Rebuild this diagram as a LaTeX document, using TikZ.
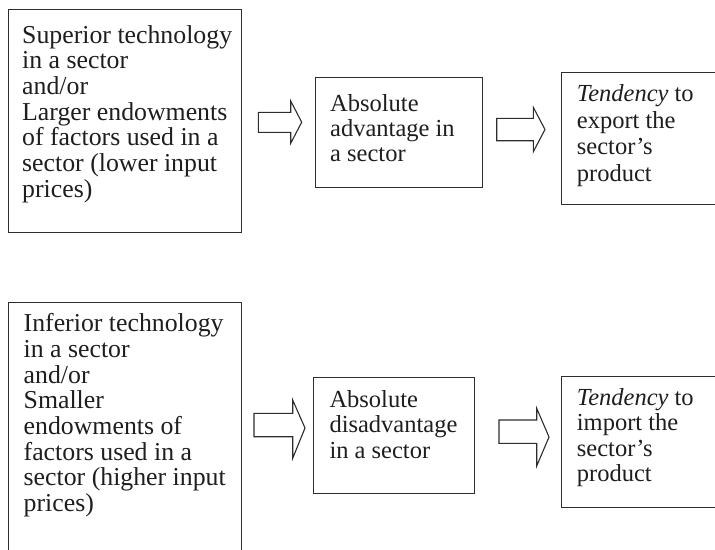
\documentclass[tikz,border=0pt]{standalone}
\usepackage{fontspec}
\setmainfont{Liberation Serif}
\definecolor{ink}{RGB}{30,30,30}
\definecolor{edge}{RGB}{45,45,45}
\tikzset{
  boxline/.style={draw=edge, line width=1.1pt, inner sep=0pt, anchor=north west},
  txt/.style={inner sep=0pt, anchor=base west, text=ink},
  bigtxt/.style={txt, font=\fontsize{25.8}{25.7}\selectfont},
  smalltxt/.style={txt, font=\fontsize{24.5}{#1}\selectfont},
  blockarrow/.style={draw=edge, line width=1.1pt, fill=white, line join=miter}
}
\begin{document}
\begin{tikzpicture}[x=1pt,y=-1pt]
\useasboundingbox (0,0) rectangle (715,549);
\clip (0,0) rectangle (715,549);
% boxes
\node[boxline, minimum width=233.5pt, minimum height=223pt] (b1) at (7.5,9) {};
\node[boxline, minimum width=167.3pt, minimum height=109.7pt] (b2) at (315,77.3) {};
\node[boxline, minimum width=170pt, minimum height=132.3pt] (b3) at (560.7,71.7) {};
\node[boxline, minimum width=232.7pt, minimum height=260pt] (b4) at (8,302) {};
\node[boxline, minimum width=161.8pt, minimum height=116pt] (b5) at (312.5,377.3) {};
\node[boxline, minimum width=170pt, minimum height=131.2pt] (b6) at (561,375.5) {};
% texts
\node[bigtxt] (t1) at (22,43) {\parbox[t]{230pt}{Superior technology\\in a sector\\and/or\\Larger endowments\\of factors used in a\\sector (lower input\\prices)}};
\node[smalltxt=25] (t2) at (330,111.7) {\parbox[t]{160pt}{Absolute\\advantage in\\a sector}};
\node[smalltxt=26.5] (t3) at (576.7,101.7) {\parbox[t]{160pt}{\textit{Tendency} to\\export the\\sector’s\\product}};
\node[bigtxt] (t4) at (23.5,331.7) {\parbox[t]{230pt}{Inferior technology\\in a sector\\and/or\\Smaller\\endowments of\\factors used in a\\sector (higher input\\prices)}};
\node[smalltxt=25.2] (t5) at (329.3,407.7) {\parbox[t]{160pt}{Absolute\\disadvantage\\in a sector}};
\node[smalltxt=25.5] (t6) at (576.7,405) {\parbox[t]{160pt}{\textit{Tendency} to\\import the\\sector’s\\product}};
% block arrows
\draw[blockarrow] (258.3,112.3) -- (290.7,112.3) -- (290.7,101) -- (301.7,122.2) -- (290.7,143.3) -- (290.7,132.3) -- (258.3,132.3) -- cycle;
\draw[blockarrow] (496.7,118.3) -- (533.3,118.3) -- (533.3,107.3) -- (545,129.5) -- (533.3,151.7) -- (533.3,140.7) -- (496.7,140.7) -- cycle;
\draw[blockarrow] (254,413.3) -- (292.7,413.3) -- (292.7,400) -- (305,428) -- (292.7,458.3) -- (292.7,436.7) -- (254,436.7) -- cycle;
\draw[blockarrow] (499,420) -- (536.7,420) -- (536.7,408.3) -- (549,437) -- (536.7,466) -- (536.7,443.3) -- (499,443.3) -- cycle;
\end{tikzpicture}
\end{document}
